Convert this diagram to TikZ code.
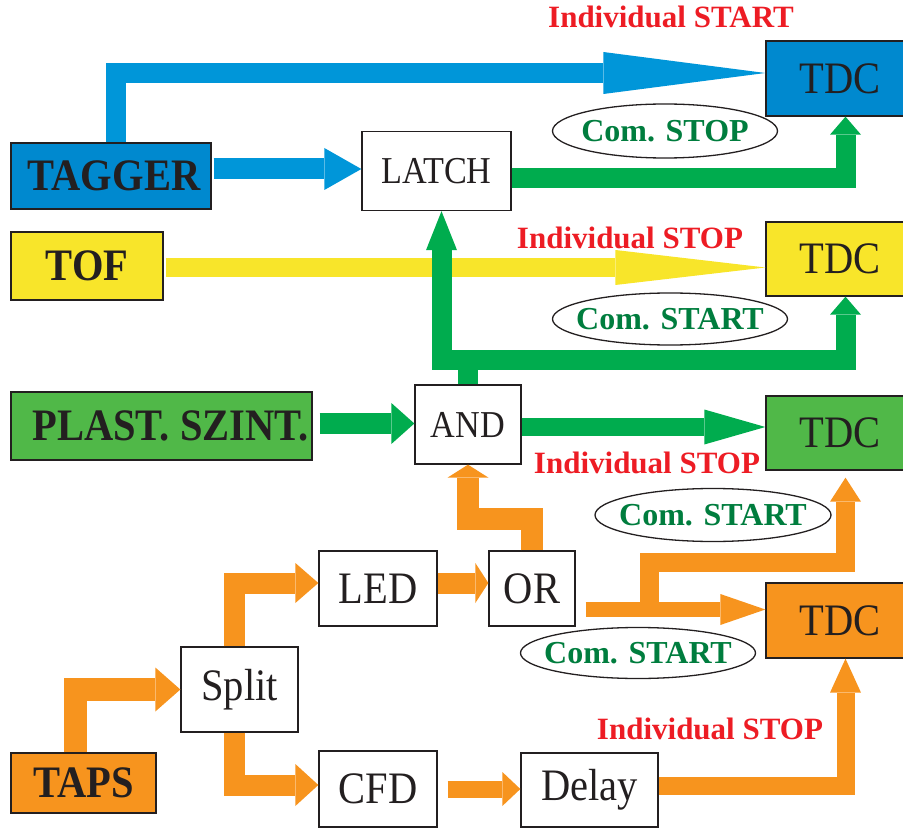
\documentclass[tikz,border=0pt]{standalone}
\usepackage{fontspec}
\setmainfont{Liberation Serif}
\newfontfamily\narrowfont{Liberation Serif}[FakeStretch=0.9]
\usetikzlibrary{arrows.meta,shapes.geometric}
\definecolor{cblue}{RGB}{0,137,207}
\definecolor{cbluearrow}{RGB}{0,150,217}
\definecolor{cyellow}{RGB}{248,229,42}
\definecolor{cgreen}{RGB}{80,184,72}
\definecolor{cgreenarrow}{RGB}{0,172,78}
\definecolor{corange}{RGB}{247,148,30}
\definecolor{cred}{RGB}{237,28,36}
\definecolor{cdkgreen}{RGB}{0,125,62}
\definecolor{cink}{RGB}{35,31,32}

\begin{document}
\begin{tikzpicture}[x=1pt,y=-1pt,line join=miter,
  box node/.style={rectangle,draw=cink,line width=1.3pt,inner sep=0pt,text=cink,font=\narrowfont\fontsize{45}{45}\selectfont},
  small box node/.style={box node,font=\narrowfont\fontsize{38}{38}\selectfont},
  det node/.style={box node,font=\narrowfont\fontsize{45}{45}\selectfont\bfseries},
  tdc node/.style={box node,minimum width=138pt,minimum height=75pt},
  sig node/.style={text=cred,inner sep=0pt,font=\fontsize{31}{31}\selectfont\bfseries},
  com node/.style={ellipse,draw=cink,line width=1.3pt,inner sep=0pt,text=cdkgreen,font=\fontsize{32}{32}\selectfont\bfseries},
  blue pipe/.style={draw=cbluearrow,line width=#1},
  yellow pipe/.style={draw=cyellow,line width=#1},
  green pipe/.style={draw=cgreenarrow,line width=#1},
  orange pipe/.style={draw=corange,line width=#1}]

  \useasboundingbox (0,0) rectangle (903,829);

  % detectors
  \node[det node,fill=cblue,minimum width=200pt,minimum height=66pt] (tagger) at (111,176) {\makebox[0pt]{\hspace{6pt}TAGGER}};
  \node[det node,fill=cyellow,minimum width=152pt,minimum height=68pt] (tof) at (87,266) {TOF};
  \node[det node,fill=cgreen,minimum width=301pt,minimum height=68pt] (plast) at (161.5,426) {\makebox[0pt]{\hspace{18pt}PLAST. SZINT.}};
  \node[det node,fill=corange,minimum width=145pt,minimum height=60pt] (taps) at (83.5,783) {TAPS};

  % electronics
  \node[small box node,minimum width=149pt,minimum height=79pt] (latch) at (436.5,171) {LATCH};
  \node[small box node,minimum width=106pt,minimum height=79pt] (and) at (468,424.5) {AND};
  \node[box node,minimum width=117pt,minimum height=85pt] (split) at (239.5,689.5) {Split};
  \node[box node,minimum width=118pt,minimum height=75pt] (led) at (378,588.5) {LED};
  \node[box node,minimum width=86pt,minimum height=75pt] (or) at (532,588.5) {OR};
  \node[box node,minimum width=118pt,minimum height=76pt] (cfd) at (378,789) {CFD};
  \node[box node,minimum width=137pt,minimum height=74pt] (delay) at (589.5,790) {Delay};

  \node[tdc node,fill=cblue] (tdcA) at (835,78.5) {\makebox[0pt]{\hspace{10pt}TDC}};
  \node[tdc node,fill=cyellow,minimum height=74pt] (tdcB) at (835,259) {\makebox[0pt]{\hspace{10pt}TDC}};
  \node[tdc node,fill=cgreen,minimum height=74pt] (tdcC) at (835,433) {\makebox[0pt]{\hspace{10pt}TDC}};
  \node[tdc node,fill=corange] (tdcD) at (835,620.5) {\makebox[0pt]{\hspace{10pt}TDC}};

  % labels
  \node[sig node] (startA) at (671,17) {Individual START};
  \node[sig node] (stopB) at (630,238) {Individual STOP};
  \node[sig node] (stopC) at (647,463) {Individual STOP};
  \node[sig node] (stopD) at (710,729) {Individual STOP};
  \node[com node,minimum width=225pt,minimum height=54pt] (comA) at (665,131) {\makebox[0pt]{Com. STOP}};
  \node[com node,minimum width=235pt,minimum height=52pt] (comB) at (670,319) {\makebox[0pt]{Com. START}};
  \node[com node,minimum width=236pt,minimum height=53pt] (comC) at (713,515) {\makebox[0pt]{Com. START}};
  \node[com node,minimum width=235pt,minimum height=51pt] (comD) at (638,653) {\makebox[0pt]{Com. START}};

  \coordinate (tdcA in) at ([xshift=10.5pt]tdcA.south);
  \coordinate (tdcB in) at ([xshift=10.5pt]tdcB.south);
  \coordinate (tdcC in) at ([xshift=10.5pt,yshift=-7pt]tdcC.south);
  \coordinate (tdcD in) at ([xshift=10.5pt]tdcD.south);
  \coordinate (latch in) at ([xshift=5pt]latch.south);
  \coordinate (or out) at ([xshift=10pt,yshift=-21pt]or.east);
  \coordinate (or tap) at ([xshift=64pt]or out);
  \coordinate (gbus) at (0,359.5);
  \coordinate (obus) at (0,518.5);
  \coordinate (tbus) at (0,562);

  % blue
  \draw[blue pipe=20pt,-{Triangle[length=162pt,width=42pt,line width=0pt]}] ([xshift=4.5pt]tagger.north) |- ([yshift=5.5pt]tdcA.west);
  \draw[blue pipe=21pt,-{Triangle[length=37pt,width=42pt,line width=0pt]}] ([xshift=2pt,yshift=7pt]tagger.east) -- ([yshift=2pt]latch.west);

  % yellow
  \draw[yellow pipe=19pt,-{Triangle[length=150pt,width=35pt,line width=0pt]}] ([xshift=2pt,yshift=-1.5pt]tof.east) -- ([yshift=-1.5pt]tof.east -| tdcB.west);

  % green
  \draw[green pipe=20pt,-{Triangle[length=18pt,width=31pt,line width=0pt]}] ([yshift=-7.5pt]latch.east) -| (tdcA in);
  \draw[green pipe=20pt,-{Triangle[length=39pt,width=31pt,line width=0pt]}] (and.north) |- (latch in |- gbus) -- (latch in);
  \draw[green pipe=20pt,-{Triangle[length=18pt,width=31pt,line width=0pt]}] (and.north) |- (tdcB in |- gbus) -- (tdcB in);
  \draw[green pipe=21pt,-{Triangle[length=23pt,width=41pt,line width=0pt]}] ([xshift=7pt,yshift=2.5pt]plast.east) -- ([yshift=1pt]and.west);
  \draw[green pipe=18pt,-{Triangle[length=61pt,width=35pt,line width=0pt]}] ([yshift=-2.5pt]and.east) -- ([yshift=-2.5pt]and.east -| tdcC.west);

  % orange
  \draw[orange pipe=23pt,-{Triangle[length=25pt,width=44pt,line width=0pt]}] ([xshift=-8.5pt]taps.north) |- (split.west);
  \draw[orange pipe=21pt,-{Triangle[length=23pt,width=40pt,line width=0pt]}] ([xshift=-5.5pt]split.north) |- ([yshift=5.5pt]led.west);
  \draw[orange pipe=21pt,-{Triangle[length=23pt,width=42pt,line width=0pt]}] ([xshift=-5.5pt]split.south) |- ([yshift=4pt]cfd.west);
  \draw[orange pipe=17pt,-{Triangle[length=18pt,width=34pt,line width=0pt]}] ([xshift=10pt]cfd.east) -- (cfd.east -| delay.west);
  \draw[orange pipe=21pt,-{Triangle[length=13pt,width=40pt,line width=0pt]}] ([yshift=5.5pt]led.east) -- ([yshift=5.5pt]or.west);
  \draw[orange pipe=22pt,-{Triangle[length=13pt,width=41pt,line width=0pt]}] (or.north) |- (and.south |- obus) -- (and.south);
  \draw[orange pipe=15pt,-{Triangle[length=45pt,width=31pt,line width=0pt]}] (or out) -- (or out -| tdcD.west);
  \draw[orange pipe=19pt,-{Triangle[length=24pt,width=31pt,line width=0pt]}] (or tap) |- (tdcC in |- tbus) -- (tdcC in);
  \draw[orange pipe=18pt,-{Triangle[length=34pt,width=31pt,line width=0pt]}] ([yshift=4pt]delay.east) -| (tdcD in);
\end{tikzpicture}
\end{document}
